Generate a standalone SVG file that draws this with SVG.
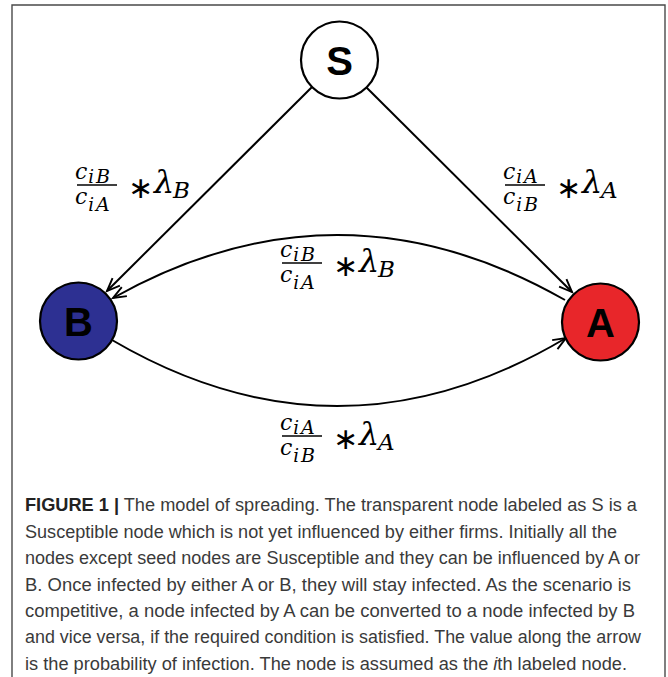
<svg xmlns="http://www.w3.org/2000/svg" width="668" height="677" viewBox="0 0 668 677">
<defs>
<style>
.frame{fill:none;stroke:#4a4a4a;stroke-width:1.4}
.node{stroke:#000;stroke-width:2.2}
.nl{font-family:"Liberation Sans",Arial,sans-serif;font-weight:bold;font-size:40px;text-anchor:middle;fill:#000}
.edge{fill:none;stroke:#000;stroke-width:2;marker-end:url(#ah)}
.bar{stroke:#000;stroke-width:1.3}
.cap{font-family:"Liberation Sans",Arial,sans-serif;font-size:17.5px;fill:#3a3a3a}
.st{font-family:"DejaVu Sans",sans-serif;font-style:normal;font-size:30px}
</style>
<marker id="ah" markerWidth="18" markerHeight="16" refX="14" refY="7" orient="auto" markerUnits="userSpaceOnUse">
<path d="M1,1.8 L14,7 L1,12.2" fill="none" stroke="#000" stroke-width="1.9"/>
</marker>
</defs>
<rect width="668" height="677" fill="#fff"/>
<path class="frame" d="M12,677 L12,5 L665,5 L665,677"/>
<g id="connectors">
<path class="edge" d="M312,87 L107,291"/>
<path class="edge" d="M366,87 L572,292"/>
<path class="edge" d="M565,300 Q339,171 113,298"/>
<path class="edge" d="M112,340 Q339,473 566,338"/>
</g>
<g id="labels" font-family="'DejaVu Serif','Liberation Serif',serif" font-style="italic" fill="#000">
<g id="label-SB" transform="translate(77,185)">
<text x="-2" y="-6" font-size="22">c<tspan font-size="18" dx="1" dy="4">i</tspan><tspan font-size="19" dx="2">B</tspan></text>
<line class="bar" x1="0" y1="0" x2="40" y2="0"/>
<text x="-2" y="19" font-size="22">c<tspan font-size="18" dx="1" dy="7">i</tspan><tspan font-size="19" dx="2">A</tspan></text>
<text class="st" x="51" y="13">∗</text>
<text x="77" y="8" font-size="32">λ</text><text x="96" y="13" font-size="23">B</text>
</g>
<g id="label-SA" transform="translate(505,185)">
<text x="-2" y="-6" font-size="22">c<tspan font-size="18" dx="1" dy="4">i</tspan><tspan font-size="19" dx="2">A</tspan></text>
<line class="bar" x1="0" y1="0" x2="40" y2="0"/>
<text x="-2" y="19" font-size="22">c<tspan font-size="18" dx="1" dy="7">i</tspan><tspan font-size="19" dx="2">B</tspan></text>
<text class="st" x="51" y="13">∗</text>
<text x="77" y="8" font-size="32">λ</text><text x="96" y="13" font-size="23">A</text>
</g>
<g id="label-AB" transform="translate(282,263)">
<text x="-2" y="-6" font-size="22">c<tspan font-size="18" dx="1" dy="4">i</tspan><tspan font-size="19" dx="2">B</tspan></text>
<line class="bar" x1="0" y1="0" x2="40" y2="0"/>
<text x="-2" y="19" font-size="22">c<tspan font-size="18" dx="1" dy="7">i</tspan><tspan font-size="19" dx="2">A</tspan></text>
<text class="st" x="51" y="13">∗</text>
<text x="77" y="9" font-size="32">λ</text><text x="96" y="14" font-size="23">B</text>
</g>
<g id="label-BA" transform="translate(282,436)">
<text x="-2" y="-6" font-size="22">c<tspan font-size="18" dx="1" dy="4">i</tspan><tspan font-size="19" dx="2">A</tspan></text>
<line class="bar" x1="0" y1="0" x2="40" y2="0"/>
<text x="-2" y="19" font-size="22">c<tspan font-size="18" dx="1" dy="7">i</tspan><tspan font-size="19" dx="2">B</tspan></text>
<text class="st" x="51" y="13">∗</text>
<text x="77" y="9" font-size="32">λ</text><text x="96" y="14" font-size="23">A</text>
</g>
</g>
<g id="node-S">
<circle class="node" cx="339.5" cy="60" r="38.5" fill="#fff"/>
<text class="nl" x="339.5" y="74.5">S</text>
</g>
<g id="node-B">
<circle class="node" cx="78.5" cy="321" r="38.5" fill="#2d3092"/>
<text class="nl" x="78.5" y="335.5">B</text>
</g>
<g id="node-A">
<circle class="node" cx="600.5" cy="322" r="38.5" fill="#e8262a"/>
<text class="nl" x="600.5" y="336.5">A</text>
</g>
<g id="caption">
<text class="cap" x="25" y="511" textLength="612" lengthAdjust="spacingAndGlyphs"><tspan font-weight="bold" fill="#222">FIGURE 1 |</tspan> The model of spreading. The transparent node labeled as S is a</text>
<text class="cap" x="25" y="537.5" textLength="592" lengthAdjust="spacingAndGlyphs">Susceptible node which is not yet influenced by either firms. Initially all the</text>
<text class="cap" x="25" y="564" textLength="615" lengthAdjust="spacingAndGlyphs">nodes except seed nodes are Susceptible and they can be influenced by A or</text>
<text class="cap" x="25" y="590.5" textLength="606" lengthAdjust="spacingAndGlyphs">B. Once infected by either A or B, they will stay infected. As the scenario is</text>
<text class="cap" x="25" y="617" textLength="610" lengthAdjust="spacingAndGlyphs">competitive, a node infected by A can be converted to a node infected by B</text>
<text class="cap" x="25" y="643" textLength="616" lengthAdjust="spacingAndGlyphs">and vice versa, if the required condition is satisfied. The value along the arrow</text>
<text class="cap" x="25" y="669.5" textLength="602" lengthAdjust="spacingAndGlyphs">is the probability of infection. The node is assumed as the <tspan font-style="italic">i</tspan>th labeled node.</text>
</g>
</svg>
